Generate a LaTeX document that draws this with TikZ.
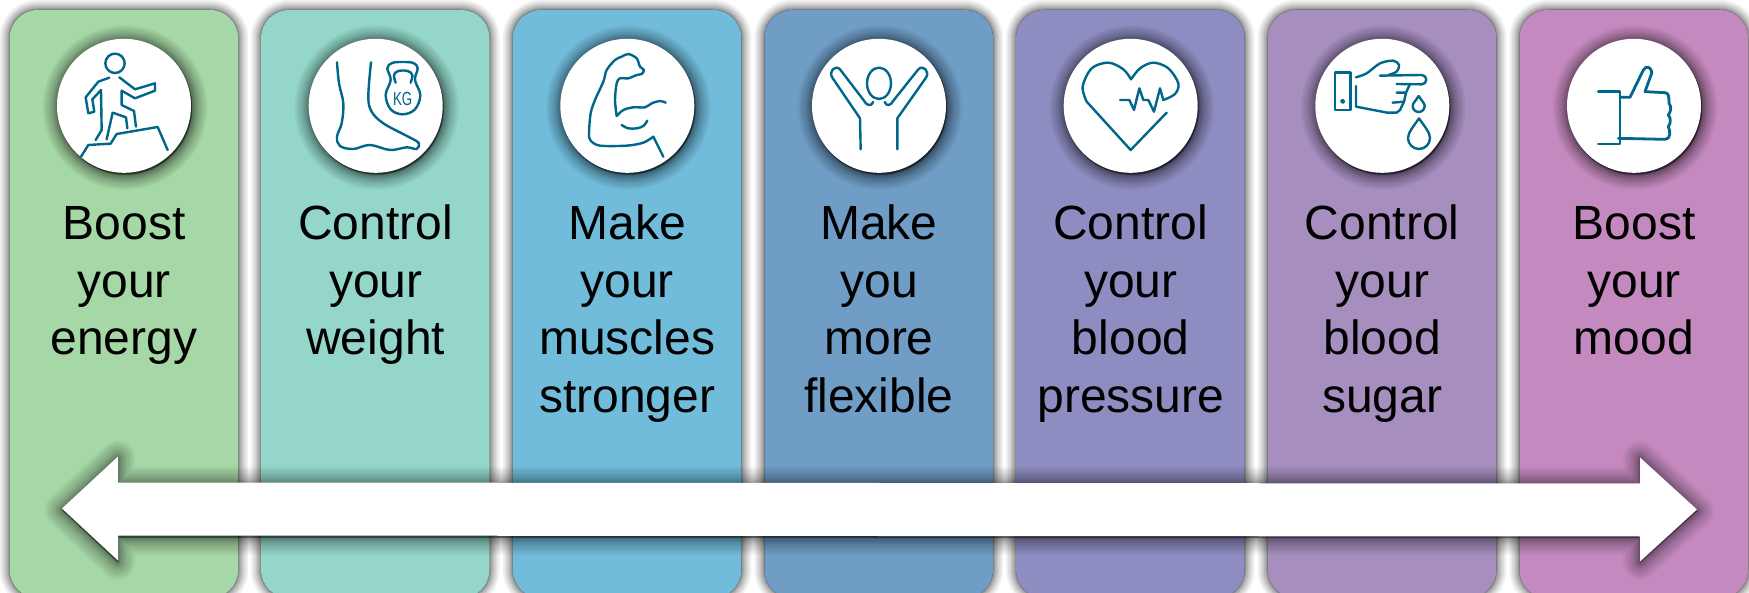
\documentclass[tikz,border=0pt]{standalone}
\usepackage{fontspec}
\setmainfont{Liberation Sans}
\definecolor{cardA}{HTML}{A6D7A6}
\definecolor{cardB}{HTML}{94D7CA}
\definecolor{cardC}{HTML}{71BCDB}
\definecolor{cardD}{HTML}{6F9DC6}
\definecolor{cardE}{HTML}{8E8DC1}
\definecolor{cardF}{HTML}{A68EBF}
\definecolor{cardG}{HTML}{C48ABF}
\definecolor{iconcol}{HTML}{00678A}
\newcommand{\softshade}[2]{%
  \foreach \w in {#2}{\draw[draw=black,fill=black,opacity=#1,line width=\w pt,line join=round] \softpath;}}
\tikzset{
  cardbox/.style={rounded corners=28pt},
  iconline/.style={draw=iconcol,line width=2.4pt,line join=round,line cap=round},
  capt/.style={anchor=north,align=center,text=black,inner sep=0pt,font=\fontsize{48}{57.6}\selectfont},
  disc/.style={circle,fill=white,minimum size=134pt,inner sep=0pt},
}
% #1 colour, #2 left x, #3 centre x, #4 name, #5 text
\newcommand{\card}[5]{%
  \def\softpath{[rounded corners=28pt] (#2pt,-10pt) rectangle (#2pt+228.5pt,-598pt)}%
  \softshade{0.06}{1,2,3,4,6,8,10,13,16,20}%
  \fill[#1,cardbox] (#2pt,-10pt) rectangle (#2pt+228.5pt,-598pt);
  \def\softpath{(#3pt+1pt,-107.5pt) circle (67pt)}%
  \softshade{0.05}{1,2,3,4,6,8,10,12,15,18,22,26,30}%
  \node[disc] (disc#4) at (#3pt,-105.8pt) {};
  \node[capt] (text#4) at (#3pt,-199pt) {\strut #5};
}
\begin{document}
\begin{tikzpicture}[x=1pt,y=1pt]
\useasboundingbox (0pt,0pt) rectangle (1749pt,-593pt);
\clip (0pt,0pt) rectangle (1749pt,-593pt);
\fill[white] (0pt,0pt) rectangle (1749pt,-593pt);
\card{cardA}{9.7}{124}{a}{Boost\\your\\energy}
\card{cardB}{261}{375.7}{b}{Control\\your\\weight}
\card{cardC}{512.8}{627.3}{c}{Make\\your\\muscles\\stronger}
\card{cardD}{764.5}{879}{d}{Make\\you\\more\\flexible}
\card{cardE}{1016}{1130.7}{e}{Control\\your\\blood\\pressure}
\card{cardF}{1267.8}{1382.3}{f}{Control\\your\\blood\\sugar}
\card{cardG}{1519.5}{1634}{g}{Boost\\your\\mood}
% double arrow
\def\softpath{(62pt,-510pt) -- (118pt,-457.5pt) -- (118pt,-484pt) -- (1640pt,-484pt) -- (1640pt,-458.5pt) -- (1697pt,-511pt) -- (1640pt,-562.5pt) -- (1640pt,-537.5pt) -- (118pt,-537.5pt) -- (118pt,-562.5pt) -- cycle}
\softshade{0.04}{1,2,3,4,6,8,10,12,15,18,22,26,30,34}
\fill[white] (62pt,-508.5pt) -- (118pt,-456.5pt) -- (118pt,-482.5pt) -- (1640pt,-483.5pt) -- (1640pt,-457.5pt) -- (1697pt,-509.5pt) -- (1640pt,-561.5pt) -- (1640pt,-536.5pt) -- (118pt,-535.5pt) -- (118pt,-560.5pt) -- cycle;
% icon 1: climber
\begin{scope}[x=0.33333pt,y=-0.33333pt]
\draw[iconline] (345,190) circle (29);
\draw[iconline] (328,233) -- (295,245) -- (257,292) -- (265,340) -- (283,335) -- (277,298) -- (303,270) -- (305,390) -- (287,420);
\draw[iconline] (320,418) -- (338,338) -- (378,352) -- (382,385);
\draw[iconline] (408,380) -- (402,333) -- (365,315) -- (365,272) -- (405,295) -- (465,272) -- (465,250) -- (405,268) -- (358,232);
\draw[iconline] (243,470) -- (265,435) -- (332,431) -- (350,402) -- (473,381) -- (503,450);
% icon 2: foot and kettlebell
\draw[iconline] plot[smooth,tension=0.6] coordinates {(1011,187) (1017,250) (1030,310) (1025,370) (1011,410) (1020,438) (1060,447) (1110,435) (1170,450) (1220,442) (1250,447) (1257,430) (1240,418) (1215,405) (1150,370) (1115,335) (1105,290) (1113,187)};
\draw[iconline] plot[smooth cycle,tension=0.6] coordinates {(1172,240) (1157,285) (1172,328) (1208,343) (1245,328) (1261,285) (1245,240) (1253,205) (1240,189) (1208,186) (1176,189) (1162,205)};
\draw[iconline] plot[smooth,tension=0.6] coordinates {(1187,248) (1182,225) (1195,213) (1223,213) (1237,225) (1232,248)};
\node[text=iconcol,inner sep=0pt,font=\fontsize{19}{19}\selectfont] (kg) at (1208,296) {\scalebox{0.7}[1]{KG}};
\end{scope}
% icon 3: arm
\begin{scope}[shift={(500pt,0pt)},x=0.33333pt,y=-0.33333pt]
\draw[iconline] (490,470) -- (460,410);
\draw[iconline] plot[smooth,tension=0.5] coordinates {(460,410) (430,428) (380,437) (300,437) (272,422) (267,400) (272,340) (285,300) (310,245) (320,210) (345,180) (365,170) (385,162) (410,175) (420,200) (432,210) (425,222) (410,225) (385,235) (360,235) (350,250) (345,300) (350,348)};
\draw[iconline] plot[smooth,tension=0.5] coordinates {(350,348) (370,330) (400,322) (435,322) (455,310) (480,303) (497,308)};
\draw[iconline] plot[smooth,tension=0.6] coordinates {(365,375) (385,385) (410,385) (430,378) (442,362)};
\end{scope}
% icon 4: raised arms
\begin{scope}[shift={(800pt,-30pt)},x=0.33333pt,y=-0.33333pt]
\draw[iconline] (237,160) ellipse (36 and 47);
\draw[iconline] (182,358) -- (180,265) -- (97,143) .. controls (85,125) and (105,103) .. (120,118) -- (192,212) .. controls (198,225) and (212,232) .. (220,216);
\draw[iconline] (292,358) -- (292,265) -- (378,143) .. controls (390,125) and (370,103) .. (355,118) -- (280,212) .. controls (274,225) and (260,232) .. (254,216);
\end{scope}
% icon 5: heart
\begin{scope}[shift={(1030pt,-20pt)},x=0.33333pt,y=-0.33333pt]
\draw[iconline] (410,278) -- (302,390) -- (170,245);
\draw[iconline] plot[smooth,tension=0.55] coordinates {(170,245) (158,200) (185,145) (235,128) (280,148) (303,178)};
\draw[iconline] plot[smooth,tension=0.55] coordinates {(303,178) (330,145) (370,128) (415,145) (445,190) (435,222) (400,240)};
\draw[iconline] (400,240) -- (390,205) -- (372,275) -- (355,240) -- (340,240) -- (328,205) -- (312,270) -- (298,240) -- (270,240);
\end{scope}
% icons 6 and 7
\begin{scope}[shift={(1300pt,-20pt)},x=0.33333pt,y=-0.33333pt]
\draw[iconline] (105,158) rectangle (152,270);
\draw[iconline] (128,244) circle (4);
\draw[iconline] plot[smooth,tension=0.5] coordinates {(168,172) (200,160) (240,130) (280,122) (297,135) (290,155) (265,165)};
\draw[iconline] (240,167) -- (365,165) arc[start angle=-90,end angle=90,radius=14] -- (290,192);
\draw[iconline] (330,192) -- (318,218) -- (290,218);
\draw[iconline] (318,218) -- (312,245) -- (278,248);
\draw[iconline] (312,245) -- (300,270) -- (290,278) -- (262,278) -- (168,260) -- (168,198);
\draw[iconline] (356,228) .. controls (345,245) and (338,250) .. (338,258) arc[start angle=180,end angle=0,radius=18] .. controls (374,250) and (367,245) .. (356,228);
\draw[iconline] (357,295) .. controls (340,320) and (324,338) .. (324,354) arc[start angle=180,end angle=0,radius=33] .. controls (390,338) and (374,320) .. (357,295);
\draw[iconline,line width=2.8pt] (895,214) -- (960,214) -- (960,372) -- (895,372);
\draw[iconline,line width=2.8pt] (960,232) -- (990,232) -- (1030,150) .. controls (1038,135) and (1055,140) .. (1055,160) -- (1035,215) -- (1095,218) .. controls (1105,220) and (1107,225) .. (1107,250) .. controls (1116,262) and (1112,275) .. (1105,285) .. controls (1114,295) and (1112,310) .. (1105,320) .. controls (1112,335) and (1112,358) .. (1095,358) -- (955,355);
\end{scope}
\end{tikzpicture}
\end{document}
